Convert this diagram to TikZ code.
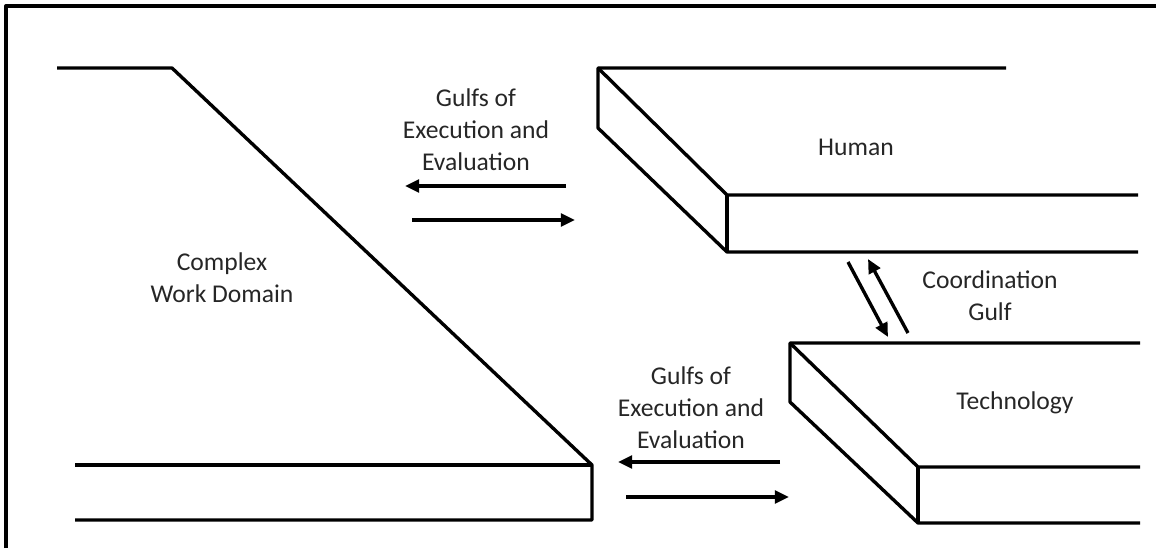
\documentclass[tikz,border=0pt]{standalone}
\usepackage{fontspec}
\setmainfont{Carlito}
\usetikzlibrary{arrows.meta}
\tikzset{
  edge/.style={line width=2.4pt,line join=round},
  gulf/.style={->,line width=2.4pt},
  lbl/.style={align=center,text=black!85,font=\fontsize{18.2}{22.7}\selectfont}
}
\begin{document}
\begin{tikzpicture}[x=0.025cm,y=-0.025cm,>={Triangle[length=10pt,width=9pt]}]
\useasboundingbox (0,0) rectangle (1156,548);
% frame
\draw[edge] (6,548)--(6,6)--(1156,6);
% work domain
\draw[edge] (57,68)--(172,68)--(592,465)--(592,520)--(75,520);
\draw[edge] (75,465)--(592,465);
% human
\draw[edge] (1006,68)--(598,68)--(598,128)--(727,252)--(1138,252);
\draw[edge] (598,68)--(727,195)--(1138,195);
\draw[edge] (727,195)--(727,252);
% technology
\draw[edge] (1140,343)--(790,343)--(790,402)--(918,523)--(1140,523);
\draw[edge] (790,343)--(918,467)--(1140,467);
\draw[edge] (918,467)--(918,523);
% labels
\node[lbl] (wd) at (222,278) {Complex\\Work Domain};
\node[lbl] (hum) at (856,147) {Human};
\node[lbl] (tech) at (1015,403) {Technology};
\node[lbl] (coord) at (990,296) {Coordination\\Gulf};
\node[lbl] (gee1) at (476,130) {Gulfs of\\Execution and\\Evaluation};
\node[lbl] (gee2) at (691,408) {Gulfs of\\Execution and\\Evaluation};
% arrow ends
\coordinate (a1s) at (566,186); \coordinate (a1e) at (405,186);
\coordinate (a2s) at (412,220); \coordinate (a2e) at (575,220);
\coordinate (b1s) at (780,462); \coordinate (b1e) at (618,462);
\coordinate (b2s) at (626,497); \coordinate (b2e) at (789,497);
\coordinate (c1s) at (848,262); \coordinate (c1e) at (888,337);
\coordinate (c2s) at (908,333); \coordinate (c2e) at (868,259);
\draw[gulf] (a1s)--(a1e);
\draw[gulf] (a2s)--(a2e);
\draw[gulf] (b1s)--(b1e);
\draw[gulf] (b2s)--(b2e);
\draw[gulf] (c1s)--(c1e);
\draw[gulf] (c2s)--(c2e);
\end{tikzpicture}
\end{document}
